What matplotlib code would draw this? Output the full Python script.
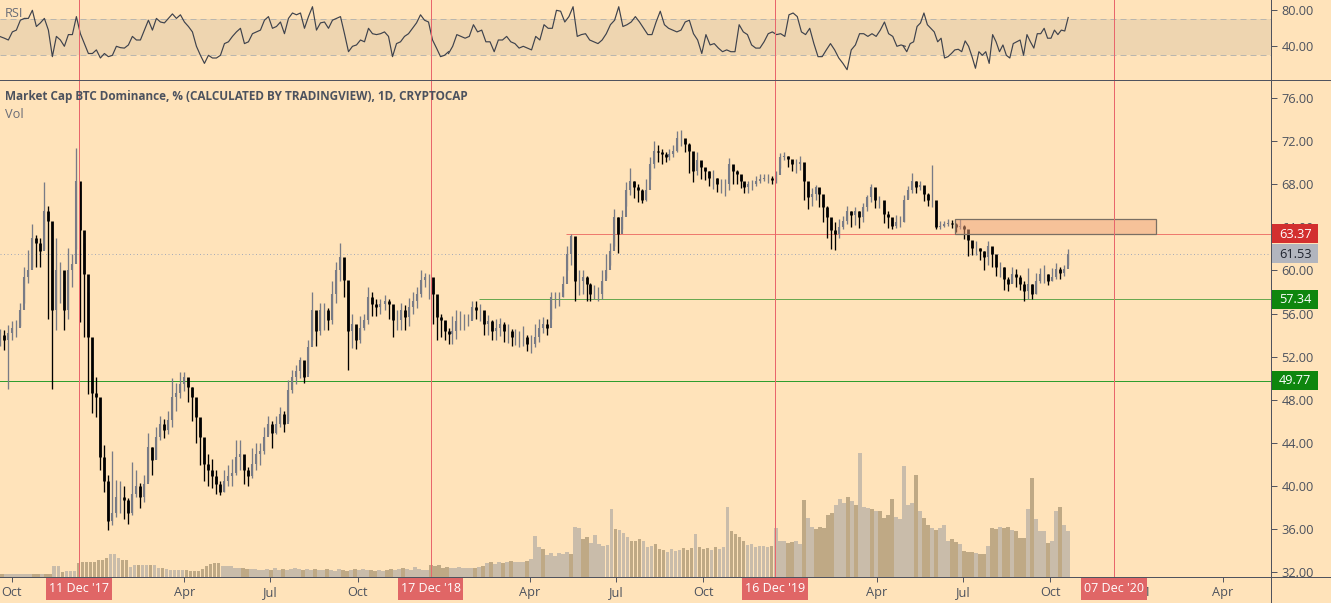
import numpy as np
import pandas as pd
import matplotlib
matplotlib.use("Agg")
import matplotlib.pyplot as plt
import matplotlib.dates as mdates
from matplotlib.lines import Line2D
from matplotlib.patches import Rectangle

plt.rcParams['font.family'] = ['Open Sans', 'DejaVu Sans']

# ---------- price data (sampled about every 4 days) ----------
close_a = [54.0,53.5,54.2,54.7,54.7,56.3,59.4,60.0,63.0,62.5,
           61.8,65.5,64.6,56.3,60.0,60.0,56.3,60.0,60.6,68.3,
           63.7,59.7,53.8,48.6,48.3,42.7,40.5,36.8,37.5,39.0,
           39.0,38.7,37.5,39.3,40.0,39.0,40.2,43.6,42.4,44.6,
           45.8,45.2,46.1,48.3,48.6,49.5,50.1,49.2,48.3,46.4,
           44.6,42.1,41.5,40.9,40.2,39.5,40.5,40.9,41.2,42.7,
           43.0,41.5,40.9,42.1,43.0,43.3,44.6,45.8,44.9,45.8,
           46.7,45.8,48.9,50.1,50.7,51.7,50.1,52.9,56.3,54.4,
           56.3,56.3,55.4,57.8,60.0,61.2,59.1,54.4,55.0,53.5,
           54.7,55.4,57.5,56.9,56.6,56.9,57.2,56.9,55.4,55.4,
           56.3,55.7,56.6,57.2,57.8,59.1,59.4,59.4,57.8,55.7,
           55.4,54.4,54.1]
high_a = [54.6,54.5,54.9,55.3,55.4,57.0,60.3,61.9,64.3,63.3,
          63.0,68.2,66.0,60.0,63.0,60.8,59.0,62.1,61.5,71.3,
          67.4,62.5,58.0,50.7,50.1,46.5,43.8,41.0,43.3,40.6,
          40.5,40.0,38.9,42.2,41.5,40.3,41.0,44.9,43.6,45.5,
          46.5,46.2,47.0,50.0,49.6,50.6,50.6,50.0,49.2,47.5,
          46.0,43.8,43.0,42.5,41.5,40.5,41.5,42.0,42.5,44.3,
          44.3,42.5,41.8,43.5,44.0,44.0,45.5,46.5,46.0,46.5,
          47.3,47.0,49.8,50.8,51.2,52.0,51.2,53.5,58.0,55.8,
          57.0,57.0,56.5,59.0,60.8,62.5,60.8,58.0,56.0,54.8,
          55.8,56.0,58.5,58.0,57.3,57.3,57.7,57.3,56.5,56.3,
          57.0,56.8,57.4,58.0,58.5,60.0,59.8,59.7,58.8,57.0,
          56.0,55.3,54.7]
low_a = [53.0,52.6,49.0,53.5,53.8,54.8,57.0,58.8,60.3,60.3,
         60.3,62.0,55.5,49.0,54.5,57.0,54.5,55.5,58.5,62.0,
         55.2,53.8,48.5,46.8,46.4,41.5,39.5,35.9,36.4,37.1,
         37.5,37.0,36.5,37.3,39.0,38.0,38.5,40.5,41.0,42.5,
         44.3,44.5,44.8,45.5,47.0,48.2,48.8,47.8,46.0,44.0,
         42.0,40.5,40.0,39.8,39.3,39.2,39.5,40.0,40.0,41.0,
         41.5,40.2,40.0,40.8,41.5,42.0,43.0,44.8,43.5,44.8,
         45.5,45.0,46.0,48.6,49.5,50.0,49.6,50.5,53.5,53.0,
         54.0,54.5,54.5,55.0,57.0,59.0,57.5,50.8,52.8,52.7,
         53.3,54.5,55.0,55.8,55.8,56.0,56.3,55.5,53.8,54.5,
         54.5,54.5,54.8,56.0,56.5,57.5,58.5,57.3,55.0,53.5,
         53.8,53.5,53.2]

close_b = [54.4,55.3,55.3,55.3,55.3,56.6,56.3,56.3,55.0,55.3,
           54.4,54.7,55.0,54.4,54.4,53.8,53.8,53.8,53.8,53.2,
           53.2,53.8,54.7,55.0,54.7,57.5,57.5,57.5,58.7,61.5,
           63.2,59.0,59.0,59.4,58.7,57.8,57.8,57.8,59.0,60.0,
           61.8,64.9,63.4,64.9,67.4,68.3,67.7,67.4,66.5,67.4,
           69.9,71.1,71.0,70.8,70.5,70.8,71.1,72.3,72.3,71.7,
           71.1,69.2,70.2,69.6,69.2,68.6,68.6,68.0,68.0,68.0,
           69.9,69.2,68.9,68.3,67.7,68.0,68.0,68.3,68.5,68.6,
           68.6,68.4,68.8,70.5,70.6,70.3,69.9,69.9,70.0,68.3,
           66.8,67.1,67.7,67.1,65.9,64.9,63.7,63.4,64.0,64.6,
           65.5,65.1,65.5,64.9,65.9,66.8,67.7,66.5,66.5]
high_b = [55.8,56.3,56.2,56.0,56.0,57.2,57.2,56.9,56.0,55.9,
          55.4,55.5,55.6,55.2,55.0,54.6,54.6,54.4,54.8,54.0,
          54.0,55.0,55.5,55.7,55.5,58.0,58.0,58.0,59.5,62.3,
          63.4,60.2,60.0,60.0,59.5,58.8,58.6,58.5,60.0,61.5,
          62.5,65.7,64.9,65.6,68.2,69.5,68.3,68.0,67.5,68.5,
          70.5,72.0,71.6,71.2,71.0,71.2,71.6,72.9,73.0,72.1,
          71.8,70.0,71.0,70.0,69.5,69.2,69.3,68.6,68.5,68.5,
          70.4,69.7,69.3,68.7,68.1,68.3,68.4,68.7,68.9,68.9,
          68.9,68.7,69.2,70.9,71.0,70.6,70.2,70.3,70.6,68.9,
          67.6,67.6,67.9,67.6,66.8,66.0,64.5,64.5,64.8,65.0,
          66.0,65.5,65.9,65.5,66.2,67.0,68.0,67.2,66.9]
low_b = [53.2,53.6,54.5,54.5,54.8,55.5,55.5,55.3,54.0,54.0,
         53.5,53.5,53.9,53.4,53.3,53.0,53.1,52.9,53.0,52.5,
         52.3,52.9,53.4,54.2,54.0,55.5,56.5,56.7,57.5,60.0,
         60.5,57.2,57.7,57.8,57.2,57.2,57.3,57.2,57.3,59.3,
         60.5,62.3,61.6,63.8,66.0,67.0,66.7,66.3,66.2,66.4,
         68.5,69.5,70.0,69.9,70.0,70.2,70.5,71.0,71.5,71.0,
         69.0,68.2,68.8,68.5,68.4,67.8,67.5,67.3,67.2,66.9,
         67.4,68.0,68.0,67.6,67.2,67.2,67.4,67.8,68.1,68.3,
         68.1,68.0,68.1,69.5,70.2,69.6,69.2,69.0,69.3,66.5,
         65.7,66.0,66.5,65.9,64.5,63.0,62.0,61.9,63.0,63.8,
         64.3,64.0,64.2,63.9,64.5,65.5,66.3,65.8,65.8]

close_c = [65.2,64.9,64.1,64.5,64.5,66.5,67.4,68.3,67.7,67.9,
           67.1,66.5,66.5,64.0,64.1,64.3,64.4,64.3,64.0,64.1,
           63.8,62.8,62.1,62.1,61.8,61.2,62.3,61.5,60.3,60.3,
           59.2,58.7,59.7,59.4,58.7,58.1,58.7,57.8,59.0,59.7,
           59.7,59.0,59.4,60.1,59.8,60.1,61.53]
high_c = [65.8,65.5,64.6,65.1,65.0,67.0,67.8,69.0,68.3,68.3,
          67.5,67.2,69.8,65.9,64.6,64.6,64.8,64.7,64.4,64.8,
          64.2,63.3,62.7,62.7,62.1,61.8,62.7,62.2,60.9,60.8,
          60.3,59.4,60.3,60.1,59.6,59.0,60.2,58.7,59.8,60.2,
          60.5,59.7,60.2,60.7,60.3,60.5,62.0]
low_c = [64.4,63.9,63.8,63.9,64.0,64.5,66.7,67.2,67.2,67.4,
         66.4,66.0,65.9,63.8,63.8,64.0,64.1,63.9,63.6,63.8,
         62.9,61.3,61.4,61.4,61.0,60.0,60.5,60.3,59.5,59.4,
         58.2,58.1,58.8,58.5,58.2,57.2,57.3,57.3,57.8,58.8,
         58.8,58.6,59.0,59.2,59.2,59.5,60.5]

volume = [3,3,3,3,3,3,3,3,3,3,
          3,3,3,11,11,5,6,6,6,14,
          15,15,15,15,17,17,19,23,23,19,
          17,17,10,12,12,12,12,12,12,9,
          9,8,7,7,7,7,7,6,6,6,
          8,11,13,14,14,11,11,11,9,9,
          9,8,8,8,7,7,8,7,9,7,
          8,7,8,9,8,7,8,7,8,7,
          7,8,7,6,8,7,6,7,8,7,
          8,7,7,6,7,6,7,8,7,8,
          9,8,7,10,8,7,7,12,11,12,
          9,10,9,9,10,9,9,9,9,10,
          11,14,15,13,15,14,15,16,15,15,
          15,16,18,41,30,28,22,24,21,24,
          23,25,23,50,49,38,40,34,42,33,
          31,32,68,48,47,44,40,36,36,38,
          36,30,31,33,28,27,25,28,26,27,
          29,27,29,43,30,28,29,27,30,28,
          30,70,46,43,40,36,32,33,30,31,
          31,30,31,49,36,36,34,35,36,33,
          77,59,50,48,50,49,62,64,72,78,
          74,80,76,72,124,70,69,68,66,66,
          59,62,78,60,58,111,72,74,102,66,
          59,52,49,47,49,52,36,38,35,33,
          26,25,25,24,23,23,31,49,48,50,
          49,50,47,46,39,39,68,99,58,46,
          46,34,36,66,70,52,46]

rsi_a = [50.7,49,47,56,58,69,71,71,80,62,66,71,58,28.5,51,47,40,53,53,73,54,43,32,32,36,27,32,28.5,30,40,
         38.5,38,41.5,51,47,47,58,69,58,71,67,66,71,76,71,75,67,62,56,40,30,21,30,27,27,30,43,45,51,56,
         60,43,45,54,56,58,69,73,60,62,67,54,71,77,75,77,60,73,84,58,66,67,60,69,71,73,54,34,40,41.5,
         47,45,60,54,53,54,56,51,28.5,43,45,51,54,60,66,75,69,67,47,38,28.5,30,34]
rsi_b = [32,40,53,51,49,51,64,56,58,45,45,34,47,47,51,45,43,38,40,38,36,51,47,64,60,60,80,79,67,73,
         84,51,53,54,47,45,43,47,54,64,69,84,62,64,67,73,67,60,53,53,67,79,64,60,58,56,58,67,69,54,
         47,32,53,41.5,43,38,34,36,34,34,64,56,53,41.5,38,38,45,54,56,53,54,51,75,77,73,56,53,60,43,28.5,
         28.5,36,43,36,27,21,14,36,41.5,54,54,51,54,51,58,67,54,51,40,41.5,40]
rsi_c = [40,34,43,45,62,66,77,64,60,56,45,49,27,28.5,32,36,36.7,34,46,40,28.5,15.6,34,30,34,21,53,45,34,41.5,
         30,27,43,45,47,30,53,45,38,54,54,60,49,49,58,53,58,57,72]

# named date spans of the sampled series
span_a = ('2017-09-19', '2019-01-05')
span_b = ('2019-01-09', '2020-04-03')
span_c = ('2020-04-09', '2020-10-20')
vol_span = ('2017-09-21', '2020-10-20')
rsi_span_a = ('2017-09-19', '2019-01-05')
rsi_span_b = ('2019-01-05', '2020-05-01')
rsi_span_c = ('2020-04-29', '2020-10-20')

cycle_dates = ['2017-12-11', '2018-12-17', '2019-12-16', '2020-12-07']
cycle_labels = ["11 Dec '17", "17 Dec '18", "16 Dec '19", "07 Dec '20"]

resistance, support, strong_support, last_price = 63.37, 57.34, 49.77, 61.53
zone_top, zone_bottom = 64.8, 63.37
zone_span = ('2020-06-23', '2021-01-21')
res_start, sup_start = '2019-05-09', '2019-02-06'

price_ticks = list(range(32, 77, 4))
rsi_ticks = [40, 80]

BG = '#FFE3BA'
AX = '#50535E'
TXT = '#4C525E'
UP, DOWN = '#787B86', '#000000'
RED = '#E8666C'
THIN = 0.72


def span(s, n):
    a, b = mdates.date2num(pd.Timestamp(s[0])), mdates.date2num(pd.Timestamp(s[1]))
    return np.linspace(a, b, n)


W, H = 1331, 603
fig = plt.figure(figsize=(W / 100, H / 100), dpi=100, facecolor=BG)
RIGHT, SEP, BOT = 1271, 79.5, 577

def rect(top, bottom):
    return [0, (H - bottom) / H, RIGHT / W, (bottom - top) / H]

ax_vol = fig.add_axes(rect(SEP, BOT), zorder=1)
ax = fig.add_axes(rect(SEP, BOT), zorder=2)
ax_rsi = fig.add_axes(rect(0, SEP), zorder=2)

d0 = mdates.date2num(pd.Timestamp('2017-12-11'))
xlim = (d0 - 79 / 0.9475, d0 + (RIGHT - 79) / 0.9475)

dates = np.r_[span(span_a, len(close_a)), span(span_b, len(close_b)), span(span_c, len(close_c))]
close = np.r_[close_a, close_b, close_c]
high = np.r_[high_a, high_b, high_c]
low = np.r_[low_a, low_b, low_c]
opens = np.r_[close[0], close[:-1]]
is_up = close >= opens

# volume
ax_vol.set_axis_off()
vdates = span(vol_span, len(volume))
idx = np.clip(np.searchsorted(dates, vdates), 0, len(dates) - 1)
vcolors = np.where(is_up[idx], '#C9BCAA', '#BFA985')
ax_vol.bar(vdates, volume, width=3.9, color=list(vcolors), linewidth=0)
ax_vol.set_xlim(xlim)
ax_vol.set_ylim(0, BOT - SEP)

# main panel
ax.patch.set_visible(False)
ax.set_xlim(xlim)
ax.set_ylim(32 - 4.5 / 10.78, 32 + 492.5 / 10.78)
for mask, col, body_lw in ((is_up, UP, 1.5), (~is_up, DOWN, 2.0)):
    ax.vlines(dates[mask], low[mask], high[mask], color=col, lw=0.95, zorder=3)
    ax.vlines(dates[mask], np.minimum(opens, close)[mask], np.maximum(opens, close)[mask],
              color=col, lw=body_lw, zorder=3)

ax.axhline(strong_support, color='#2E9E2E', lw=THIN, zorder=2)
ax.axhline(last_price, color='#A9ACB8', lw=THIN, ls=(0, (1, 2.5)), zorder=2)
ax.hlines(resistance, mdates.date2num(pd.Timestamp(res_start)), xlim[1], color='#EE7A6E', lw=THIN, zorder=2)
ax.hlines(support, mdates.date2num(pd.Timestamp(sup_start)), xlim[1], color='#6AA84F', lw=THIN, zorder=2)
zs = [mdates.date2num(pd.Timestamp(z)) for z in zone_span]
ax.add_patch(Rectangle((zs[0], zone_bottom), zs[1] - zs[0], zone_top - zone_bottom,
                       facecolor='#EFA27A', alpha=0.5, edgecolor='none', zorder=4))
ax.add_patch(Rectangle((zs[0], zone_bottom), zs[1] - zs[0], zone_top - zone_bottom,
                       facecolor='none', edgecolor='#7A6F63', lw=0.9, zorder=4))

for c in cycle_dates:
    for a in (ax, ax_rsi):
        a.axvline(mdates.date2num(pd.Timestamp(c)), color=RED, lw=THIN, zorder=4)

# axes cosmetics
for s in ax.spines.values():
    s.set_visible(False)
ax.yaxis.tick_right()
ax.set_yticks(price_ticks)
ax.set_yticklabels([f'{v:.2f}' for v in price_ticks])
ax.tick_params(axis='y', length=4.5, width=0.7, color=AX, labelcolor=TXT, labelsize=9.2, pad=3)
ax.xaxis.set_major_locator(mdates.MonthLocator(bymonth=(1, 4, 7, 10)))


def month_label(v, p):
    d = mdates.num2date(v)
    if d.month == 1:
        return '2021' if d.year == 2021 else ''
    return d.strftime('%b')


ax.xaxis.set_major_formatter(plt.FuncFormatter(month_label))
ax.tick_params(axis='x', length=3.5, width=0.7, color=AX, labelcolor=TXT, labelsize=9.2, pad=3)

# RSI panel
ax_rsi.patch.set_visible(False)
ax_rsi.set_xlim(xlim)
ax_rsi.set_ylim(30 - 24.2 / 0.9, 70 + 19.3 / 0.9)
ax_rsi.axhspan(30, 70, color='#EED5B0', lw=0, zorder=1)
for lv in (30, 70):
    ax_rsi.axhline(lv, color='#B9B6AE', lw=THIN, ls=(0, (6, 4)), zorder=2)
for s_, r_ in ((rsi_span_a, rsi_a), (rsi_span_b, rsi_b), (rsi_span_c, rsi_c)):
    ax_rsi.plot(span(s_, len(r_)), r_, color='#3E424C', lw=0.85, zorder=3)
for s in ax_rsi.spines.values():
    s.set_visible(False)
ax_rsi.set_xticks([])
ax_rsi.yaxis.tick_right()
ax_rsi.set_yticks(rsi_ticks)
ax_rsi.set_yticklabels([f'{v:.2f}' for v in rsi_ticks])
ax_rsi.tick_params(axis='y', length=4.5, width=0.7, color=AX, labelcolor=TXT, labelsize=9.2, pad=3)

# frame lines spanning the figure
fig.add_artist(Line2D([0, 1], [(H - SEP) / H] * 2, color=AX, lw=THIN, zorder=6))
fig.add_artist(Line2D([0, 1], [(H - BOT) / H] * 2, color=AX, lw=THIN, zorder=6))
fig.add_artist(Line2D([RIGHT / W] * 2, [0, 1], color=AX, lw=THIN, zorder=6))

# price tags
tags = [(resistance, '#D32F2F', 'white'), (last_price, '#B2B5BE', '#1E222D'),
        (support, '#0E860E', 'white'), (strong_support, '#0E860E', 'white')]
ytf = ax.get_yaxis_transform()
tag_w = 47 / RIGHT
for price, fc, tc in tags:
    ax.add_patch(Rectangle((1.0, price - 0.88), tag_w, 1.76, transform=ytf, facecolor=fc,
                           edgecolor='none', clip_on=False, zorder=5))
    ax.text(1.0 + 8 / RIGHT, price - 0.02, f'{price:.2f}', transform=ytf, color=tc, fontsize=9.2,
            va='center', ha='left', zorder=6, clip_on=False)

# date tags
xtf = ax.get_xaxis_transform()
for c, lab in zip(cycle_dates, cycle_labels):
    n = mdates.date2num(pd.Timestamp(c))
    ax.add_patch(Rectangle((n - 34.8, -23 / (BOT - SEP)), 69.6, 23 / (BOT - SEP), transform=xtf,
                           facecolor='#E06666', edgecolor='none', clip_on=False, zorder=5))
    ax.text(n, -11.5 / (BOT - SEP), lab, transform=xtf, color='white', fontsize=9.0,
            ha='center', va='center', clip_on=False, zorder=6)

# panel captions
fig.text(5 / W, 1 - 96.5 / H, 'Market Cap BTC Dominance, % (CALCULATED BY TRADINGVIEW), 1D, CRYPTOCAP',
         color=TXT, fontsize=8.5, fontweight='bold', va='center', ha='left', zorder=7)
fig.text(5 / W, 1 - 114 / H, 'Vol', color='#6A6D78', fontsize=9.2, va='center', ha='left', zorder=7)
fig.text(5 / W, 1 - 13.5 / H, 'RSI', color='#6A6D78', fontsize=9.2, va='center', ha='left', zorder=7)

fig.savefig('out.png', dpi=100, facecolor=BG)
